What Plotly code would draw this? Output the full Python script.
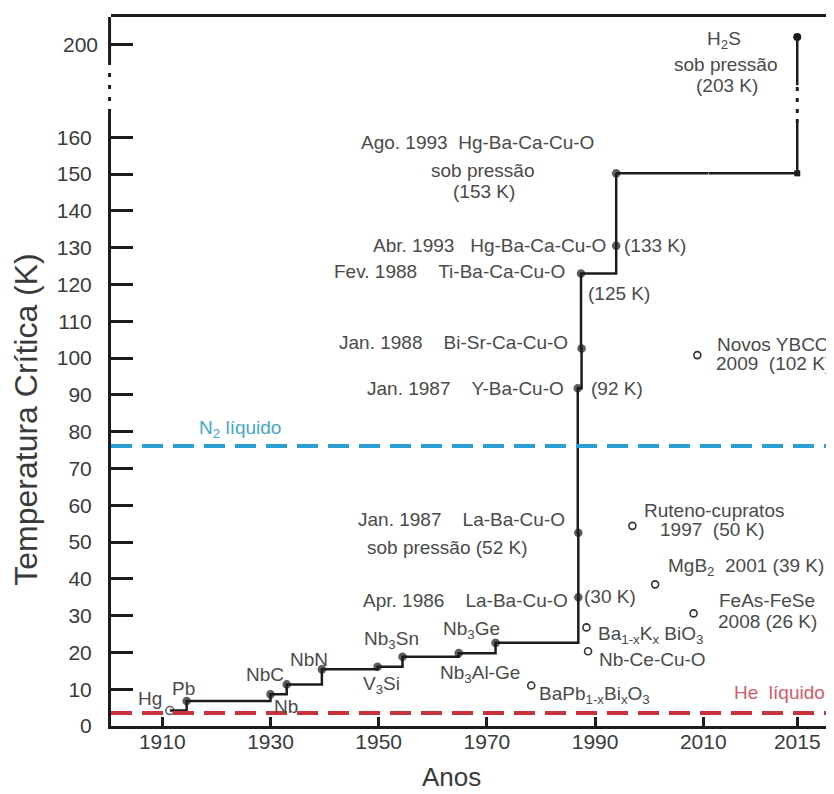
import plotly.graph_objects as go

# ---------------- data ----------------
# record critical temperatures (step line)
rec_names = ["Hg", "Pb", "Nb", "NbC", "NbN", "V3Si", "Nb3Sn", "Nb3Al-Ge", "Nb3Ge",
             "La-Ba-Cu-O", "La-Ba-Cu-O sob pressão", "Y-Ba-Cu-O", "Bi-Sr-Ca-Cu-O",
             "Ti-Ba-Ca-Cu-O", "Hg-Ba-Ca-Cu-O", "Hg-Ba-Ca-Cu-O sob pressão"]
rec_years = [1911.4, 1914.5, 1930.0, 1933.0, 1939.5, 1949.8, 1954.4, 1964.8, 1971.6,
             1986.9, 1986.9, 1986.8, 1987.5, 1987.4, 1993.9, 1993.9]
rec_tc = [4.2, 6.8, 8.6, 11.3, 15.4, 16.1, 18.8, 19.8, 22.6,
          35.0, 52.5, 91.8, 102.6, 123.0, 130.5, 150.2]

# other superconductors (open circles)
oth_names = ["BaPb1-xBixO3", "Ba1-xKxBiO3", "Nb-Ce-Cu-O", "Ruteno-cupratos",
             "MgB2", "FeAs-FeSe", "Novos YBCO"]
oth_years = [1978.2, 1988.4, 1988.7, 1996.9, 2001.1, 2008.2, 2008.9]
oth_tc = [11.0, 26.8, 20.3, 54.4, 38.5, 30.6, 100.8]

# H2S under pressure
h2s_year = 2015
h2s_tc = 202.0

# reference temperatures
n2_temp = 76.1
he_temp = 3.5

x_ticks_main = [1910, 1930, 1950, 1970, 1990, 2010]
x_ticks_right = [2015]
y_ticks_low = list(range(0, 161, 10))
y_ticks_high = [200]

# ---------------- broken-axis layout ----------------
X_RANGE_MAIN = [1900.52, 2011.0]
X_RANGE_RIGHT = [2011.0, 2016.66]
X_SPLIT = 0.8267
Y_RANGE_LOW = [0, 166.6]
Y_RANGE_HIGH = [181.33, 207.42]
Y_SPLIT = 0.8646
LOW_SOLID_TOP = 163.9      # H2S line: solid part ends (lower panel)
HIGH_SOLID_BOTTOM = 188.9  # H2S line: solid part starts (upper panel)
AXIS_SOLID_BOTTOM = 194.9  # left axis: solid part starts (upper panel)

FONT = "Liberation Sans, Arial, sans-serif"
LINE = "#1c1c1c"
TXT = "#4a4a4a"
TICK_TXT = "#3a3a3a"
BLUE = "#2b9fd3"
BLUE_TXT = "#45a6cc"
RED = "#c9343c"
RED_TXT = "#d45a6a"

fig = go.Figure()

# record step line
fig.add_trace(go.Scatter(
    x=rec_years, y=rec_tc, mode="lines+markers", xaxis="x", yaxis="y",
    line=dict(shape="hv", color=LINE, width=2.5),
    marker=dict(symbol=["circle-open"] + ["circle"] * (len(rec_years) - 1),
                size=[8] + [7] * (len(rec_years) - 1), color=LINE,
                line=dict(width=1.6, color=LINE)),
    text=rec_names, cliponaxis=False, hoverinfo="text+x+y"))

# continuation of the record line to H2S
fig.add_trace(go.Scatter(
    x=[rec_years[-1], X_RANGE_MAIN[1]], y=[rec_tc[-1], rec_tc[-1]],
    mode="lines", xaxis="x", yaxis="y", line=dict(color=LINE, width=2.5),
    cliponaxis=False, hoverinfo="skip"))
fig.add_trace(go.Scatter(
    x=[X_RANGE_RIGHT[0], h2s_year, h2s_year], y=[rec_tc[-1], rec_tc[-1], LOW_SOLID_TOP],
    mode="lines", xaxis="x2", yaxis="y", line=dict(color=LINE, width=2.5),
    cliponaxis=False, hoverinfo="skip"))
fig.add_trace(go.Scatter(
    x=[h2s_year], y=[rec_tc[-1]], mode="markers", xaxis="x2", yaxis="y",
    marker=dict(symbol="square", size=6, color=LINE), cliponaxis=False, hoverinfo="skip"))
fig.add_trace(go.Scatter(
    x=[h2s_year, h2s_year], y=[LOW_SOLID_TOP, Y_RANGE_LOW[1]], mode="lines",
    xaxis="x2", yaxis="y", line=dict(color=LINE, width=3, dash="4px,7px"),
    cliponaxis=False, hoverinfo="skip"))
fig.add_trace(go.Scatter(
    x=[h2s_year, h2s_year], y=[Y_RANGE_HIGH[0], HIGH_SOLID_BOTTOM], mode="lines",
    xaxis="x4", yaxis="y2", line=dict(color=LINE, width=3, dash="4px,7px"),
    cliponaxis=False, hoverinfo="skip"))
fig.add_trace(go.Scatter(
    x=[h2s_year, h2s_year], y=[HIGH_SOLID_BOTTOM, h2s_tc], mode="lines",
    xaxis="x4", yaxis="y2", line=dict(color=LINE, width=2.5),
    cliponaxis=False, hoverinfo="skip"))
fig.add_trace(go.Scatter(
    x=[h2s_year], y=[h2s_tc], mode="markers", xaxis="x4", yaxis="y2",
    marker=dict(symbol="circle", size=8, color=LINE), cliponaxis=False,
    text=["H2S sob pressão"], hoverinfo="text"))
# empty trace so that the upper-left panel (x3/y2) exists
fig.add_trace(go.Scatter(x=[None], y=[None], mode="lines", xaxis="x3", yaxis="y2",
                         hoverinfo="skip"))

# other materials
fig.add_trace(go.Scatter(
    x=oth_years, y=oth_tc, mode="markers", xaxis="x", yaxis="y",
    marker=dict(symbol="circle-open", size=7, color="#333333", line=dict(width=1.6)),
    text=oth_names, cliponaxis=False, hoverinfo="text+x+y"))

# ---------------- labels ----------------
S = "\u00a0"
labels = [
    ("Hg", 1907.7, 7.6, "x", "y", "center", TXT),
    ("Pb", 1914.0, 10.3, "x", "y", "center", TXT),
    ("NbC", 1929.0, 14.1, "x", "y", "center", TXT),
    ("Nb", 1932.9, 5.4, "x", "y", "center", TXT),
    ("NbN", 1937.2, 18.2, "x", "y", "center", TXT),
    ("Nb<sub>3</sub>Sn", 1952.3, 23.4, "x", "y", "center", TXT),
    ("V<sub>3</sub>Si", 1950.6, 11.2, "x", "y", "center", TXT),
    ("Nb<sub>3</sub>Ge", 1967.2, 26.2, "x", "y", "center", TXT),
    ("Nb<sub>3</sub>Al-Ge", 1968.7, 14.2, "x", "y", "center", TXT),
    ("Apr. 1986" + S * 4 + "La-Ba-Cu-O", 1985.4, 34.2, "x", "y", "right", TXT),
    ("Jan. 1987" + S * 4 + "La-Ba-Cu-O", 1984.8, 56.25, "x", "y", "right", TXT),
    ("sob pressão (52 K)", 1962.7, 48.6, "x", "y", "center", TXT),
    ("Jan. 1987" + S * 4 + "Y-Ba-Cu-O", 1984.6, 91.6, "x", "y", "right", TXT),
    ("Jan. 1988" + S * 4 + "Bi-Sr-Ca-Cu-O", 1985.4, 104.3, "x", "y", "right", TXT),
    ("Fev. 1988" + S * 4 + "Ti-Ba-Ca-Cu-O", 1984.8, 123.45, "x", "y", "right", TXT),
    ("Abr. 1993" + S * 3 + "Hg-Ba-Ca-Cu-O", 1992.4, 130.6, "x", "y", "right", TXT),
    ("(133 K)", 1994.97, 130.5, "x", "y", "left", TXT),
    ("(125 K)", 1988.3, 117.6, "x", "y", "left", TXT),
    ("Ago. 1993" + S * 2 + "Hg-Ba-Ca-Cu-O", 1968.2, 158.5, "x", "y", "center", TXT),
    ("sob pressão", 1969.3, 151.1, "x", "y", "center", TXT),
    ("(153 K)", 1969.4, 145.2, "x", "y", "center", TXT),
    ("(92 K)", 1988.9, 91.8, "x", "y", "left", TXT),
    ("(30 K)", 1987.6, 35.1, "x", "y", "left", TXT),
    ("Ba<sub>1-x</sub>K<sub>x</sub>" + S + "BiO<sub>3</sub>", 1990.2, 24.7, "x", "y", "left", TXT),
    ("Nb-Ce-Cu-O", 1990.3, 18.2, "x", "y", "left", TXT),
    ("BaPb<sub>1-x</sub>Bi<sub>x</sub>O<sub>3</sub>", 1979.3, 8.5, "x", "y", "left", TXT),
    ("MgB<sub>2</sub>" + S * 2 + "2001 (39 K)", 2003.1, 43.1, "x", "y", "left", TXT),
    ("He" + S * 2 + "líquido", 2012.05, 9.0, "x2", "y", "left", RED_TXT),
    ("FeAs-FeSe", 2013.62, 34.2, "x2", "y", "center", TXT),
    ("2008 (26 K)", 2013.64, 28.3, "x2", "y", "center", TXT),
    ("Ruteno-cupratos", 2011.22, 58.7, "x2", "y", "center", TXT),
    ("1997" + S * 2 + "(50 K)", 2011.17, 53.3, "x2", "y", "center", TXT),
    ("Novos YBCO", 2011.3, 103.7, "x2", "y", "left", TXT),
    ("2009" + S * 2 + "(102 K)", 2011.22, 98.6, "x2", "y", "left", TXT),
    ("H<sub>2</sub>S", 2011.69, 201.1, "x2", "y2", "center", TXT),
    ("sob pressão", 2011.78, 194.4, "x2", "y2", "center", TXT),
    ("(203 K)", 2011.83, 188.9, "x2", "y2", "center", TXT),
    ("N<sub>2</sub>" + S + "líquido", 1916.4, 80.6, "x", "y", "left", BLUE_TXT),
]
annotations = []
for text, x, y, xr, yr, xa, col in labels:
    annotations.append(dict(text=text, x=x, y=y, xref=xr, yref=yr, xanchor=xa,
                            yanchor="middle", showarrow=False,
                            font=dict(family=FONT, size=19, color=col)))
annotations.append(dict(text="Anos", x=0.4703, y=-0.0719, xref="paper", yref="paper",
                        xanchor="center", yanchor="middle", showarrow=False,
                        font=dict(family=FONT, size=26, color="#3a3a3a")))

shapes = [
    dict(type="line", xref="paper", yref="y", x0=0, x1=1, y0=n2_temp, y1=n2_temp,
         line=dict(color=BLUE, width=4, dash="21px,10px")),
    dict(type="line", xref="paper", yref="y", x0=0, x1=1, y0=he_temp, y1=he_temp,
         line=dict(color=RED, width=4, dash="21px,10px")),
    dict(type="line", xref="paper", yref="y2", x0=-0.002, x1=-0.002,
         y0=AXIS_SOLID_BOTTOM, y1=Y_RANGE_HIGH[1], line=dict(color=LINE, width=3)),
    dict(type="line", xref="paper", yref="y2", x0=-0.002, x1=-0.002,
         y0=Y_RANGE_HIGH[0], y1=AXIS_SOLID_BOTTOM,
         line=dict(color=LINE, width=3, dash="4px,8px")),
]

tickfont = dict(family=FONT, size=21, color=TICK_TXT)
xcommon = dict(showgrid=False, zeroline=False, showline=True, linewidth=3, linecolor=LINE,
               ticks="inside", ticklen=9, tickwidth=2.5, tickcolor=LINE, side="bottom",
               tickfont=tickfont, ticklabelstandoff=-5, fixedrange=True, automargin=False)
topcommon = dict(showgrid=False, zeroline=False, showline=True, linewidth=3, linecolor=LINE,
                 ticks="", showticklabels=False, side="top", fixedrange=True,
                 automargin=False)
ycommon = dict(showgrid=False, zeroline=False, ticks="inside", ticklen=22, tickwidth=2.5,
               tickcolor=LINE, tickfont=tickfont, ticklabelstandoff=12, fixedrange=True,
               automargin=False)

# the page body has an 8px margin: the figure is sized to fit the 834x794 window
fig.update_layout(
    template="none",
    width=826, height=786, autosize=False,
    margin=dict(l=103, r=0, t=9, b=68, pad=0),
    paper_bgcolor="white", plot_bgcolor="white", showlegend=False,
    font=dict(family=FONT, color=TXT),
    xaxis=dict(domain=[0, X_SPLIT], range=X_RANGE_MAIN, anchor="y",
               tickmode="array", tickvals=x_ticks_main, **xcommon),
    xaxis2=dict(domain=[X_SPLIT, 1], range=X_RANGE_RIGHT, anchor="y",
                tickmode="array", tickvals=x_ticks_right, **xcommon),
    xaxis3=dict(domain=[0, X_SPLIT], range=X_RANGE_MAIN, anchor="y2", **topcommon),
    xaxis4=dict(domain=[X_SPLIT, 1], range=X_RANGE_RIGHT, anchor="y2", **topcommon),
    yaxis=dict(domain=[0, Y_SPLIT], range=Y_RANGE_LOW, anchor="x",
               tickmode="array", tickvals=y_ticks_low,
               showline=True, linewidth=3, linecolor=LINE,
               title=dict(text="Temperatura Crítica (K)", standoff=24,
                          font=dict(family=FONT, size=32, color="#3a3a3a")),
               **ycommon),
    yaxis2=dict(domain=[Y_SPLIT, 1], range=Y_RANGE_HIGH, anchor="x3",
                tickmode="array", tickvals=y_ticks_high, showline=False, **ycommon),
    annotations=annotations,
    shapes=shapes,
)

fig.write_html("out.html")
